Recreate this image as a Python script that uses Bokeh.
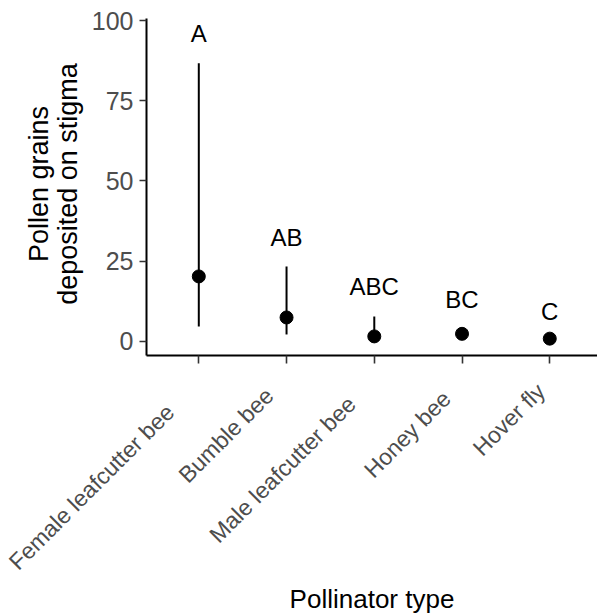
import math
from bokeh.plotting import figure
from bokeh.models import ColumnDataSource, FixedTicker, Range1d, Label, LinearAxis
from bokeh.core.properties import value
from bokeh.embed import file_html
from bokeh.resources import INLINE

categories = ["Female leafcutter bee", "Bumble bee", "Male leafcutter bee", "Honey bee", "Hover fly"]
means = [20.2, 7.4, 1.5, 2.3, 0.8]
lower = [4.6, 2.1, 0.6, 1.5, 0.6]
upper = [86.7, 23.3, 7.7, 3.3, 1.1]
letters = ["A", "AB", "ABC", "BC", "C"]
letter_y = [95.8, 32.3, 17.0, 12.9, 9.4]
y_ticks = [0, 25, 50, 75, 100]

# layout only: start of each rotated category label relative to its tick (px)
label_dx = [-186, -104, -161, -94, -73]
label_dy = [210, 123, 183, 118, 96]

xpos = list(range(1, len(categories) + 1))
src = ColumnDataSource(dict(x=xpos, m=means, lo=lower, hi=upper, lab=letters, ly=letter_y))

FONT = "Liberation Sans"
X_LO, X_HI = 0.404, 5.544      # visible extent of the x axis
Y_LO, Y_HI = -4.46, 100.62     # visible extent of the y axis
p = figure(width=597, height=614, output_backend="svg", toolbar_location=None,
           x_range=Range1d(-1.260, X_HI), y_range=Range1d(-85.22, 106.24),
           min_border_left=0, min_border_right=0, min_border_top=0, min_border_bottom=0,
           x_axis_location=None, y_axis_location=None)
p.outline_line_color = None
p.xgrid.grid_line_color = None
p.ygrid.grid_line_color = None

xax = LinearAxis(fixed_location=Y_LO, bounds=(X_LO, X_HI))
yax = LinearAxis(fixed_location=X_LO, bounds=(Y_LO, Y_HI))
p.add_layout(xax, "below")
p.add_layout(yax, "left")

p.segment(x0="x", y0="lo", x1="x", y1="hi", source=src, line_color="black", line_width=2)
p.scatter(x="x", y="m", source=src, size=13, fill_color="black", line_color="black")
p.text(x="x", y="ly", text="lab", source=src, text_align="center", text_baseline="middle",
       text_font=value(FONT), text_font_size="24px", text_color="black")

for ax in (xax, yax):
    ax.axis_line_color = "black"
    ax.axis_line_width = 2
    ax.major_tick_line_color = "#333333"
    ax.major_tick_line_width = 1.6
    ax.major_tick_in = 0
    ax.major_tick_out = 7
    ax.minor_tick_line_color = None
    ax.major_label_text_font = FONT
    ax.major_label_text_color = "#4D4D4D"

yax.ticker = FixedTicker(ticks=y_ticks)
yax.major_label_text_font_size = "25px"
yax.major_label_standoff = 6

xax.ticker = FixedTicker(ticks=xpos)
xax.major_tick_out = 8
xax.major_label_overrides = {x: "" for x in xpos}

# category tick labels, rotated
for xi, cat, dx, dy in zip(xpos, categories, label_dx, label_dy):
    p.add_layout(Label(x=xi, y=Y_LO, text=cat, x_offset=dx, y_offset=-dy, angle=math.pi / 4,
                       text_align="left", text_baseline="alphabetic", text_font=FONT,
                       text_font_size="23px", text_color="#4D4D4D"))

# axis titles
p.add_layout(Label(x=(X_LO + X_HI) / 2, y=Y_LO, text="Pollinator type", y_offset=-243,
                   text_align="center", text_baseline="alphabetic", text_font=FONT,
                   text_font_size="26px", text_color="black"))
for line, dx in zip(["Pollen grains", "deposited on stigma"], [-108, -79]):
    p.add_layout(Label(x=X_LO, y=(Y_LO + Y_HI) / 2, text=line, x_offset=dx, y_offset=3,
                       angle=math.pi / 2, text_align="center", text_baseline="middle",
                       text_font=FONT, text_font_size="27px", text_color="black"))

open("out.html", "w").write(file_html(p, INLINE))
